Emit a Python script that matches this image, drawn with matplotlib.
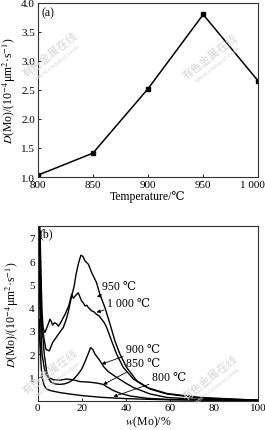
import matplotlib
matplotlib.use("Agg")
import matplotlib.pyplot as plt
import matplotlib.transforms as mtransforms

plt.rcParams['font.family'] = ['Liberation Serif', 'DejaVu Serif']
plt.rcParams['mathtext.fontset'] = 'stix'

# Panel (a)
temps = [800, 850, 900, 950, 1000]
d_temp = [1.03, 1.41, 2.52, 3.80, 2.65]
xticks_a = [800, 850, 900, 950, 1000]
xticklabels_a = ['800', '850', '900', '950', '1 000']
yticks_a = [1.0, 1.5, 2.0, 2.5, 3.0, 3.5, 4.0]

# Panel (b)
w950 = [0.2, 0.6, 1.0, 1.4, 1.8, 2.3, 3.0, 3.8, 5.3, 6.8, 9.0, 10.5, 11.6, 13.0, 14.0, 15.4, 16.5, 17.4, 18.5, 19.6, 20.5, 21.5, 23.0, 24.5, 26.7, 28.2, 30.5, 32.8, 35.0, 37.3, 40.3, 44.9, 50.9, 58.5, 73.6, 88.7, 100]
d950 = [0.5, 7.6, 7.6, 5.0, 3.6, 3.07, 2.6, 2.2, 2.14, 2.5, 2.8, 3.0, 3.14, 3.5, 3.86, 4.5, 4.9, 5.43, 5.9, 6.25, 6.2, 6.0, 5.86, 5.5, 5.07, 4.57, 4.0, 3.29, 2.57, 2.0, 1.43, 0.86, 0.5, 0.29, 0.11, 0.06, 0.02]

w1000 = [0.2, 0.7, 1.1, 1.5, 2.0, 2.5, 3.3, 4.0, 4.8, 5.6, 6.2, 6.8, 7.6, 8.6, 9.4, 10.1, 11.0, 11.6, 12.4, 13.1, 14.0, 14.7, 15.4, 16.2, 17.0, 17.7, 18.4, 19.2, 19.9, 20.7, 21.5, 22.3, 23.0, 24.5, 25.5, 26.7, 27.8, 29.0, 30.2, 31.3, 33.5, 35.8, 38.8, 43.4, 49.4, 58.5, 73.6, 88.7, 100]
d1000 = [0.5, 7.0, 7.3, 5.5, 3.8, 3.1, 2.93, 3.1, 3.29, 3.5, 3.4, 3.25, 3.35, 3.3, 3.2, 3.3, 3.45, 3.57, 3.7, 3.86, 4.05, 4.29, 4.57, 4.4, 4.5, 4.57, 4.64, 4.45, 4.29, 4.2, 4.07, 4.1, 4.0, 3.86, 3.82, 3.71, 3.65, 3.5, 3.35, 3.14, 2.57, 2.0, 1.43, 0.93, 0.57, 0.31, 0.14, 0.07, 0.02]

w900 = [0.2, 0.6, 1.0, 1.4, 1.9, 2.5, 3.0, 4.0, 5.0, 6.0, 8.0, 10.0, 12.0, 14.0, 16.0, 18.0, 20.0, 22.0, 24.0, 25.0, 26.0, 28.0, 29.0, 30.0, 32.0, 35.8, 40.0, 43.3, 50.9, 58.5, 70.0, 85.0, 100]
d900 = [0.5, 6.8, 7.0, 4.5, 3.0, 2.65, 2.0, 1.3, 0.95, 0.8, 0.72, 0.7, 0.72, 0.78, 0.9, 1.1, 1.36, 1.8, 2.28, 2.2, 2.0, 1.75, 1.6, 1.45, 1.25, 1.0, 0.75, 0.57, 0.29, 0.14, 0.07, 0.03, 0.01]

w850 = [0.2, 0.6, 1.0, 1.5, 2.0, 3.0, 4.0, 5.0, 7.0, 10.0, 13.1, 16.0, 19.2, 23.0, 26.7, 29.7, 31.3, 34.0, 37.3, 42.0, 50.0, 60.0, 80.0, 100]
d850 = [0.4, 5.5, 5.0, 3.0, 2.0, 1.4, 1.1, 1.0, 0.9, 0.88, 0.93, 0.9, 0.82, 0.8, 0.76, 0.7, 0.6, 0.45, 0.32, 0.2, 0.1, 0.05, 0.02, 0.01]

w800 = [0.2, 0.6, 1.0, 1.5, 2.0, 3.0, 4.0, 6.0, 10.0, 14.3, 20.0, 29.5, 40.0, 50.0, 60.0, 80.0, 100]
d800 = [0.3, 3.5, 3.0, 1.6, 1.0, 0.65, 0.5, 0.43, 0.35, 0.29, 0.22, 0.14, 0.09, 0.06, 0.04, 0.02, 0.01]

xticks_b = [0, 20, 40, 60, 80, 100]
yticks_b = [1, 2, 3, 4, 5, 6, 7]

labels_b = ['950 ℃', '1 000 ℃', '900 ℃', '850 ℃', '800 ℃']
label_text_pos = [(29.3, 4.93), (31.3, 4.2), (40.0, 2.2), (40.0, 1.6), (51.7, 1.0)]
label_arrow_pos = [(26.9, 4.45), (26.7, 3.8), (29.0, 1.57), (29.7, 0.69), (34.3, 0.17)]

ylabel = r'$D$(Mo)/(10$^{-4}$μm$^{2}$·s$^{-1}$)'

fig = plt.figure(figsize=(2.65, 4.31), dpi=100)
fs = 8.5
tfs = 8

axa = fig.add_axes([0.142, 0.587, 0.833, 0.404])
axa.plot(temps, d_temp, color='black', lw=1.1, marker='s', ms=3.2)
axa.set_xlim(800, 1000)
axa.set_ylim(1.0, 4.0)
axa.set_xticks(xticks_a)
axa.set_xticklabels(xticklabels_a)
axa.set_yticks(yticks_a)
axa.set_yticklabels([f'{v:.1f}' for v in yticks_a])
axa.set_xlabel('Temperature/℃', fontsize=fs, labelpad=1)
axa.set_ylabel(ylabel, fontsize=fs, labelpad=2)
axa.text(803.5, 3.84, '(a)', fontsize=fs, va='center', ha='left')

axb = fig.add_axes([0.142, 0.068, 0.833, 0.405])
for w, d in [(w950, d950), (w1000, d1000), (w900, d900), (w850, d850), (w800, d800)]:
    axb.plot(w, d, color='black', lw=1.0)
axb.set_xlim(0, 100)
axb.set_ylim(0, 7.5)
axb.set_xticks(xticks_b)
axb.set_yticks(yticks_b)
axb.set_xlabel(r'$w$(Mo)/%', fontsize=fs, labelpad=1)
axb.set_ylabel(ylabel, fontsize=fs, labelpad=6)
axb.text(1.0, 7.2, '(b)', fontsize=fs, va='center', ha='left')
for lab, tp, ap in zip(labels_b, label_text_pos, label_arrow_pos):
    axb.annotate(lab, xy=ap, xytext=tp, fontsize=fs, va='center', ha='left',
                 arrowprops=dict(arrowstyle='-|>', color='black', lw=0.6,
                                 mutation_scale=5, shrinkA=0, shrinkB=0))

for ax in (axa, axb):
    ax.tick_params(direction='in', length=2.5, width=0.6, labelsize=tfs, pad=2)
    for s in ax.spines.values():
        s.set_linewidth(0.8)
        s.set_color('#333333')

# keep the "1 000" tick label inside the figure
last = axa.get_xticklabels()[-1]
last.set_ha('right')
last.set_transform(last.get_transform() + mtransforms.ScaledTranslation(6 / 100, 0, fig.dpi_scale_trans))

# faint watermark
wm_pos = [(50, 55), (210, 57), (50, 372), (210, 378)]
for (px, py) in wm_pos:
    fig.text(px / 265, 1 - py / 431, '有色金属在线', fontsize=8, color='#d6d6d6',
             rotation=38, ha='center', va='center', family=['Noto Sans CJK SC'], zorder=0)
    fig.text((px + 8) / 265, 1 - (py + 8) / 431, 'www.cnnmol.com', fontsize=4.5, color='#d6d6d6',
             rotation=38, ha='center', va='center', family=['DejaVu Serif'], zorder=0)

fig.savefig('out.png', dpi=100)
